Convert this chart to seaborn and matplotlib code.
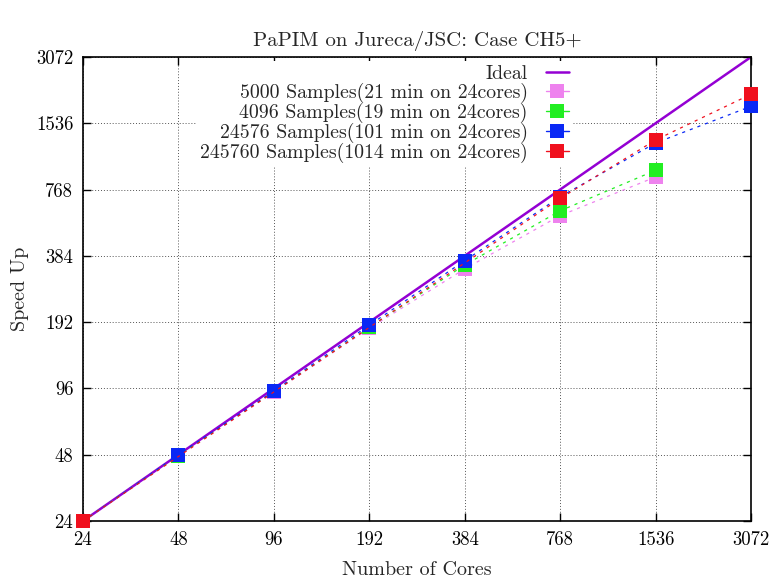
import numpy as np
import pandas as pd
import matplotlib
matplotlib.use("Agg")
import matplotlib.pyplot as plt
from matplotlib.lines import Line2D
from matplotlib.ticker import FixedLocator, FixedFormatter, NullLocator
import seaborn as sns

# Core counts and measured speed-ups for each sample size
cores_all = [24, 48, 96, 192, 384, 768, 1536, 3072]
tick_labels = ["24", "48", "96", "192", "384", "768", "1536", "3072"]

cores_5000 = [24, 48, 96, 192, 384, 768, 1536]
speedup_5000 = [24, 47.5, 92.5, 180, 335, 585, 876]

cores_4096 = [24, 48, 96, 192, 384, 768, 1536]
speedup_4096 = [24, 47.6, 93, 182, 349, 615, 939]

cores_24576 = [24, 48, 96, 192, 384, 768, 1536, 3072]
speedup_24576 = [24, 48, 93.5, 186, 365, 712, 1250, 1834]

cores_245760 = [24, 768, 1536, 3072]
speedup_245760 = [24, 700, 1290, 2080]

labels = [
    "5000 Samples(21 min on 24cores)",
    "4096 Samples(19 min on 24cores)",
    "24576 Samples(101 min on 24cores)",
    "245760 Samples(1014 min on 24cores)",
]
colors = ["#ee82ee", "#22ee22", "#0a28f5", "#f0101e"]

frames = []
for lab, xs, ys in zip(labels,
                       [cores_5000, cores_4096, cores_24576, cores_245760],
                       [speedup_5000, speedup_4096, speedup_24576, speedup_245760]):
    frames.append(pd.DataFrame({"cores": xs, "speedup": ys, "run": lab}))
df = pd.concat(frames, ignore_index=True)

sns.set_theme(style="ticks")
plt.rcParams["font.family"] = ["cmr10", "DejaVu Serif"]
plt.rcParams["axes.unicode_minus"] = False

fig = plt.figure(figsize=(7.73, 5.81), dpi=100)
ax = fig.add_axes([83 / 773, 1 - 521 / 581, (751 - 83) / 773, (521 - 57) / 581])
ax.set_xscale("log", base=2)
ax.set_yscale("log", base=2)

# Ideal linear scaling
ideal = pd.DataFrame({"cores": [24, 3072], "speedup": [24, 3072]})
sns.lineplot(data=ideal, x="cores", y="speedup", ax=ax, color="#9400d3",
             lw=1.8, zorder=2, legend=False)

for i, (lab, col) in enumerate(zip(labels, colors)):
    sub = df[df["run"] == lab]
    sns.lineplot(data=sub, x="cores", y="speedup", ax=ax, color=col,
                 lw=0.9, linestyle=(0, (2.5, 4)), zorder=3 + 2 * i, legend=False)
    sns.scatterplot(data=sub, x="cores", y="speedup", ax=ax, color=col,
                    marker="s", s=100, linewidth=0, zorder=4 + 2 * i,
                    legend=False, clip_on=False)

ax.set_xlim(24, 3072)
ax.set_ylim(24, 3072)
ax.xaxis.set_major_locator(FixedLocator(cores_all))
ax.xaxis.set_major_formatter(FixedFormatter(tick_labels))
ax.yaxis.set_major_locator(FixedLocator(cores_all))
ax.yaxis.set_major_formatter(FixedFormatter(tick_labels))
ax.xaxis.set_minor_locator(NullLocator())
ax.yaxis.set_minor_locator(NullLocator())

ax.tick_params(direction="in", length=6, width=1.0, top=True, right=True,
               labelsize=13.5, colors="black", pad=7)
ax.grid(True, which="major", color="#555555", linestyle=(0, (1, 2)), lw=0.7)
for sp in ax.spines.values():
    sp.set_visible(True)
    sp.set_color("black")
    sp.set_linewidth(1.2)

ax.set_xlabel("Number of Cores", fontsize=14.5, labelpad=9)
ax.set_ylabel("Speed Up", fontsize=14.5, labelpad=5)
ax.set_title("PaPIM on Jureca/JSC: Case CH5+", fontsize=15, pad=8)

handles = [Line2D([], [], color="#9400d3", lw=1.8)]
for col in colors:
    handles.append(Line2D([], [], color=col, lw=1.0, marker="s",
                          markersize=10, markeredgewidth=0))
leg = ax.legend(handles, ["Ideal"] + labels, loc="upper right",
                bbox_to_anchor=(0.740, 1.0), markerfirst=False, frameon=True,
                fontsize=14.3, handlelength=1.2, handletextpad=0.9,
                labelspacing=0.0, borderpad=0.2, borderaxespad=0.2)
leg.get_frame().set_facecolor("white")
leg.get_frame().set_edgecolor("none")
leg.get_frame().set_alpha(1.0)
leg.set_zorder(20)

fig.savefig("out.png", dpi=100, facecolor="white")
